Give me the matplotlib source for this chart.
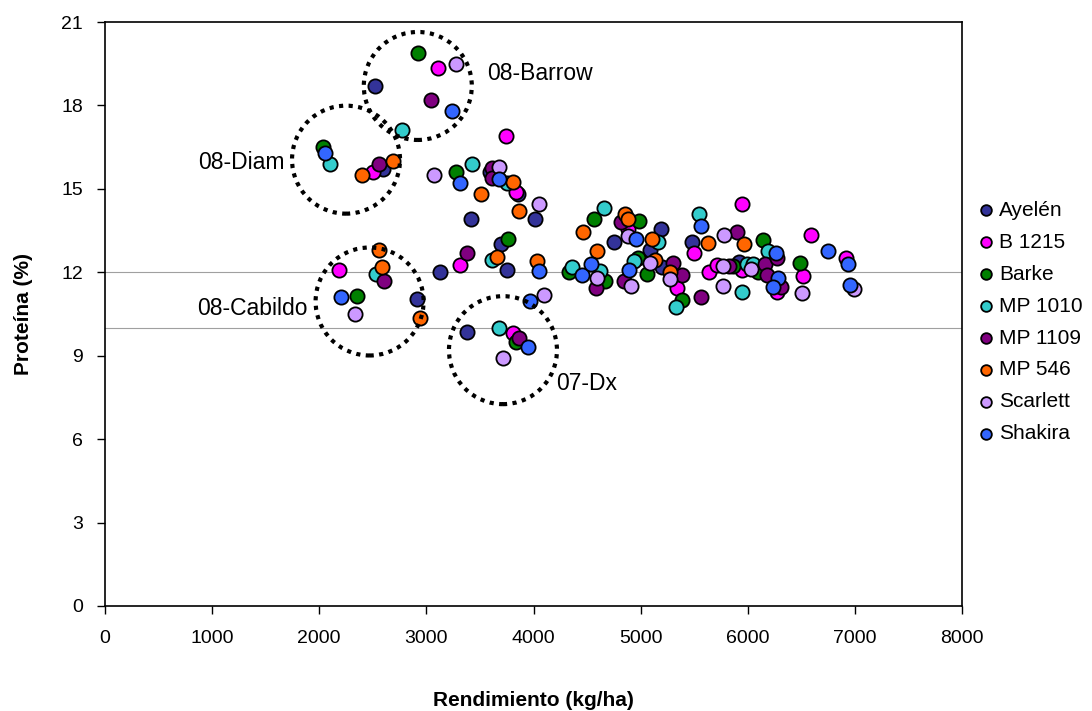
import matplotlib
matplotlib.use('Agg')
import matplotlib.pyplot as plt
from matplotlib.patches import Ellipse

plt.rcParams['font.family'] = ['Liberation Sans', 'DejaVu Sans']

# rendimiento (kg/ha) y proteina (%) por variedad
ayelen_x = [2519, 2594, 3592, 3853, 3415, 4012, 3695, 3126, 3750, 2911, 3377,
            4749, 5187, 5085, 5197, 5477, 5915]
ayelen_y = [18.7, 15.7, 15.6, 14.8, 13.9, 13.9, 13.0, 12.0, 12.1, 11.05, 9.85,
            13.1, 13.55, 12.8, 12.2, 13.1, 12.37]

b1215_x = [3107, 2500, 3741, 3835, 3312, 2183, 3807, 4880, 5337, 5943, 5495,
           5636, 5710, 5943, 6270, 6512, 6588, 6914]
b1215_y = [19.35, 15.6, 16.9, 14.9, 12.25, 12.1, 9.8, 13.55, 11.45, 14.45, 12.7,
           12.0, 12.26, 12.08, 11.3, 11.85, 13.35, 12.5]

barke_x = [2920, 2034, 3275, 3760, 2351, 3835, 4562, 4982, 4329, 4665, 4973,
           5057, 5384, 5859, 6092, 6139, 6485]
barke_y = [19.9, 16.5, 15.6, 13.2, 11.15, 9.5, 13.9, 13.85, 12.0, 11.7, 12.5,
           11.95, 11.0, 12.23, 12.0, 13.15, 12.35]

mp1010_x = [2771, 2100, 3424, 3750, 3611, 2528, 3676, 4656, 5159, 4357, 4618,
            4936, 5327, 5542, 5990, 6046, 5943, 6186]
mp1010_y = [17.1, 15.9, 15.9, 15.2, 12.45, 11.95, 10.0, 14.3, 13.1, 12.2, 12.05,
            12.4, 10.75, 14.1, 12.3, 12.3, 11.3, 12.75]

mp1109_x = [3042, 2556, 3611, 3611, 3377, 2603, 3863, 4814, 4581, 4842, 5300,
            5384, 5561, 5897, 5822, 6158, 6177, 6270, 6307]
mp1109_y = [18.2, 15.9, 15.75, 15.4, 12.7, 11.7, 9.65, 13.8, 11.45, 11.7, 12.35,
            11.9, 11.1, 13.45, 12.23, 12.3, 11.9, 12.5, 11.47]

mp546_x = [2398, 2687, 3508, 3807, 3863, 3658, 4030, 2556, 2584, 2939, 4460,
           4852, 4880, 5103, 4590, 5131, 5271, 5626, 5962]
mp546_y = [15.5, 16.0, 14.8, 15.25, 14.2, 12.55, 12.4, 12.8, 12.2, 10.35, 13.45,
           14.1, 13.9, 13.2, 12.75, 12.45, 12.0, 13.05, 13.0]

scarlett_x = [3275, 3070, 3676, 4049, 2333, 3713, 4096, 4880, 4590, 4908, 5085,
              5271, 5775, 5766, 6027, 5766, 6503, 6989]
scarlett_y = [19.5, 15.5, 15.8, 14.45, 10.5, 8.9, 11.2, 13.3, 11.8, 11.5, 12.35,
              11.75, 13.35, 12.23, 12.12, 11.5, 11.25, 11.4]

shakira_x = [3238, 2053, 3312, 3676, 4049, 2201, 3947, 3965, 4954, 4451, 4535,
             4889, 5561, 6261, 6279, 6233, 6746, 6933, 6951]
shakira_y = [17.8, 16.3, 15.2, 15.35, 12.05, 11.1, 9.3, 10.95, 13.2, 11.9, 12.3,
             12.1, 13.65, 12.7, 11.8, 11.47, 12.75, 12.3, 11.55]

series = [
    ('Ayelén', ayelen_x, ayelen_y, '#333399'),
    ('B 1215', b1215_x, b1215_y, '#FF00FF'),
    ('Barke', barke_x, barke_y, '#008000'),
    ('MP 1010', mp1010_x, mp1010_y, '#33CCCC'),
    ('MP 1109', mp1109_x, mp1109_y, '#800080'),
    ('MP 546', mp546_x, mp546_y, '#FF6600'),
    ('Scarlett', scarlett_x, scarlett_y, '#CC99FF'),
    ('Shakira', shakira_x, shakira_y, '#3366FF'),
]

# grupos marcados con circulos punteados: (texto, centro x, centro y, texto x, texto y)
grupos = [
    ('08-Barrow', 2920, 18.7, 3565, 19.15),
    ('08-Diam', 2250, 16.05, 870, 15.95),
    ('08-Cabildo', 2470, 10.95, 860, 10.7),
    ('07-Dx', 3715, 9.2, 4215, 8.0),
]

fig = plt.figure(figsize=(10.92, 7.11), dpi=100)
ax = fig.add_axes([105/1092, 105/711, 857/1092, 584/711])

ax.axhline(12, color='#a0a0a0', lw=0.8, zorder=1)
ax.axhline(10, color='#a0a0a0', lw=0.8, zorder=1)

for name, xs, ys, col in series:
    ax.scatter(xs, ys, s=105, c=col, edgecolors='black', linewidths=1.3,
               label=name, zorder=3)

ax.set_xlim(0, 8000)
ax.set_ylim(0, 21)
ax.set_xticks(range(0, 8001, 1000))
ax.set_yticks(range(0, 22, 3))
ax.tick_params(direction='out', length=6, width=1, labelsize=14)
ax.tick_params(axis='x', pad=11)
ax.tick_params(axis='y', pad=10)

# circulos en pixeles -> tamano en datos
r_px = 54
w = 2 * r_px * 8000 / 857
h = 2 * r_px * 21 / 584
for txt, cx, cy, tx, ty in grupos:
    ax.add_patch(Ellipse((cx, cy), w, h, fill=False, ec='black', lw=3,
                         ls=(0, (1, 1.3)), zorder=4))
    ax.text(tx, ty, txt, fontsize=16.5, va='center', ha='left', zorder=5)

for sp in ax.spines.values():
    sp.set_linewidth(1.2)
    sp.set_color('black')

ax.set_xlabel('Rendimiento (kg/ha)', fontsize=15, fontweight='bold', labelpad=32)
ax.set_ylabel('Proteína (%)', fontsize=15, fontweight='bold', labelpad=20)

fig.legend(loc='center left', bbox_to_anchor=(967/1092, 0.547), frameon=False,
           fontsize=15, markerscale=0.75, handletextpad=0.15, labelspacing=0.62,
           borderaxespad=0, handlelength=1.0)

fig.savefig('out.png', dpi=100)
